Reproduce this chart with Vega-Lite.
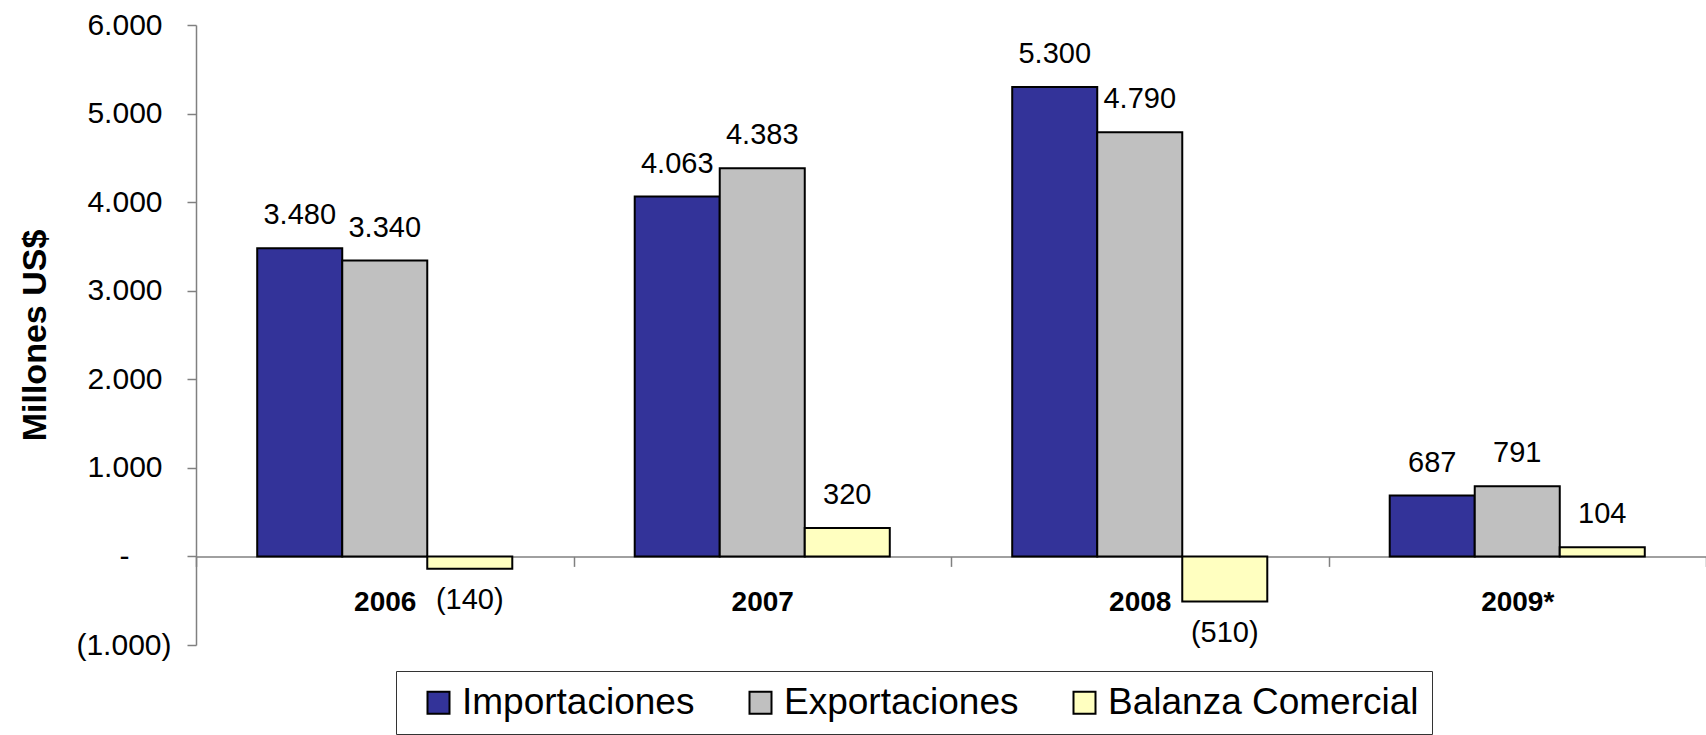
{
  "$schema": "https://vega.github.io/schema/vega-lite/v6.json",
  "width": 1510,
  "height": 620,
  "autosize": "none",
  "padding": {"left": 196, "top": 25, "right": 0, "bottom": 90},
  "background": "white",
  "config": {
    "view": {"stroke": null},
    "font": "Liberation Sans",
    "locale": {"number": {"decimal": ",", "thousands": ".", "grouping": [3], "currency": ["$", ""]}}
  },
  "data": {
    "values": [
      {"anio": "2006", "serie": "Importaciones", "valor": 3480},
      {"anio": "2006", "serie": "Exportaciones", "valor": 3340},
      {"anio": "2006", "serie": "Balanza Comercial", "valor": -140},
      {"anio": "2007", "serie": "Importaciones", "valor": 4063},
      {"anio": "2007", "serie": "Exportaciones", "valor": 4383},
      {"anio": "2007", "serie": "Balanza Comercial", "valor": 320},
      {"anio": "2008", "serie": "Importaciones", "valor": 5300},
      {"anio": "2008", "serie": "Exportaciones", "valor": 4790},
      {"anio": "2008", "serie": "Balanza Comercial", "valor": -510},
      {"anio": "2009*", "serie": "Importaciones", "valor": 687},
      {"anio": "2009*", "serie": "Exportaciones", "valor": 791},
      {"anio": "2009*", "serie": "Balanza Comercial", "valor": 104}
    ]
  },
  "encoding": {
    "x": {
      "field": "anio", "type": "nominal", "sort": null,
      "scale": {"paddingInner": 0, "paddingOuter": 0},
      "axis": {
        "title": null, "orient": "bottom", "offset": -88.6, "labelAngle": 0,
        "labelFont": "Liberation Sans", "labelFontWeight": "bold", "labelFontSize": 28,
        "labelColor": "black", "labelBaseline": "alphabetic", "labelPadding": 44,
        "tickBand": "extent", "tickSize": 10, "tickColor": "#808080", "tickWidth": 1.5,
        "domainColor": "#808080", "domainWidth": 1.5, "grid": false
      }
    },
    "xOffset": {
      "field": "serie", "type": "nominal",
      "sort": ["Importaciones", "Exportaciones", "Balanza Comercial"],
      "scale": {"paddingInner": 0, "paddingOuter": 0.72}
    },
    "y": {
      "field": "valor", "type": "quantitative",
      "scale": {"domain": [-1000, 6000], "nice": false, "zero": false},
      "axis": {
        "title": "Millones US$",
        "values": [-1000, 0, 1000, 2000, 3000, 4000, 5000, 6000],
        "format": "(,.0f",
        "labelExpr": "datum.value == 0 ? '-' : datum.label",
        "labelFont": "Liberation Sans", "labelFontSize": 30, "labelColor": "black",
        "labelPadding": {"condition": [{"test": "datum.value == 0", "value": 58}, {"test": "datum.value < 0", "value": 16}], "value": 25},
        "tickSize": 9, "tickColor": "#808080", "tickWidth": 1.5,
        "domainColor": "#808080", "domainWidth": 1.5, "grid": false,
        "titleFont": "Liberation Sans", "titleFontSize": 34, "titleFontWeight": "bold",
        "titleColor": "black", "titleX": -151, "titleY": 310, "titleBaseline": "alphabetic",
        "titleAlign": "center", "titleAngle": -90
      }
    }
  },
  "layer": [
    {
      "mark": {"type": "bar", "stroke": "black", "strokeWidth": 2},
      "encoding": {
        "color": {
          "field": "serie", "type": "nominal",
          "scale": {"domain": ["Importaciones", "Exportaciones", "Balanza Comercial"], "range": ["#333399", "#C0C0C0", "#FFFFC0"]},
          "legend": {
            "orient": "none", "legendX": 200, "legendY": 646, "direction": "horizontal",
            "title": null, "strokeColor": "#333333", "padding": 13,
            "symbolType": "square", "symbolSize": 484, "symbolStrokeColor": "black",
            "symbolStrokeWidth": 2, "symbolOffset": 11, "labelOffset": 5,
            "labelFontSize": 37, "labelFont": "Liberation Sans", "labelColor": "black",
            "columnPadding": 36, "labelLimit": 600, "symbolOpacity": 1
          }
        }
      }
    },
    {
      "transform": [{"filter": "datum.valor >= 0"}],
      "mark": {"type": "text", "dy": -24, "baseline": "alphabetic", "fontSize": 29, "font": "Liberation Sans", "color": "black"},
      "encoding": {"text": {"field": "valor", "type": "quantitative", "format": "(,.0f"}}
    },
    {
      "transform": [{"filter": "datum.valor < 0"}],
      "mark": {"type": "text", "dy": 40, "baseline": "alphabetic", "fontSize": 29, "font": "Liberation Sans", "color": "black"},
      "encoding": {"text": {"field": "valor", "type": "quantitative", "format": "(,.0f"}}
    }
  ]
}
